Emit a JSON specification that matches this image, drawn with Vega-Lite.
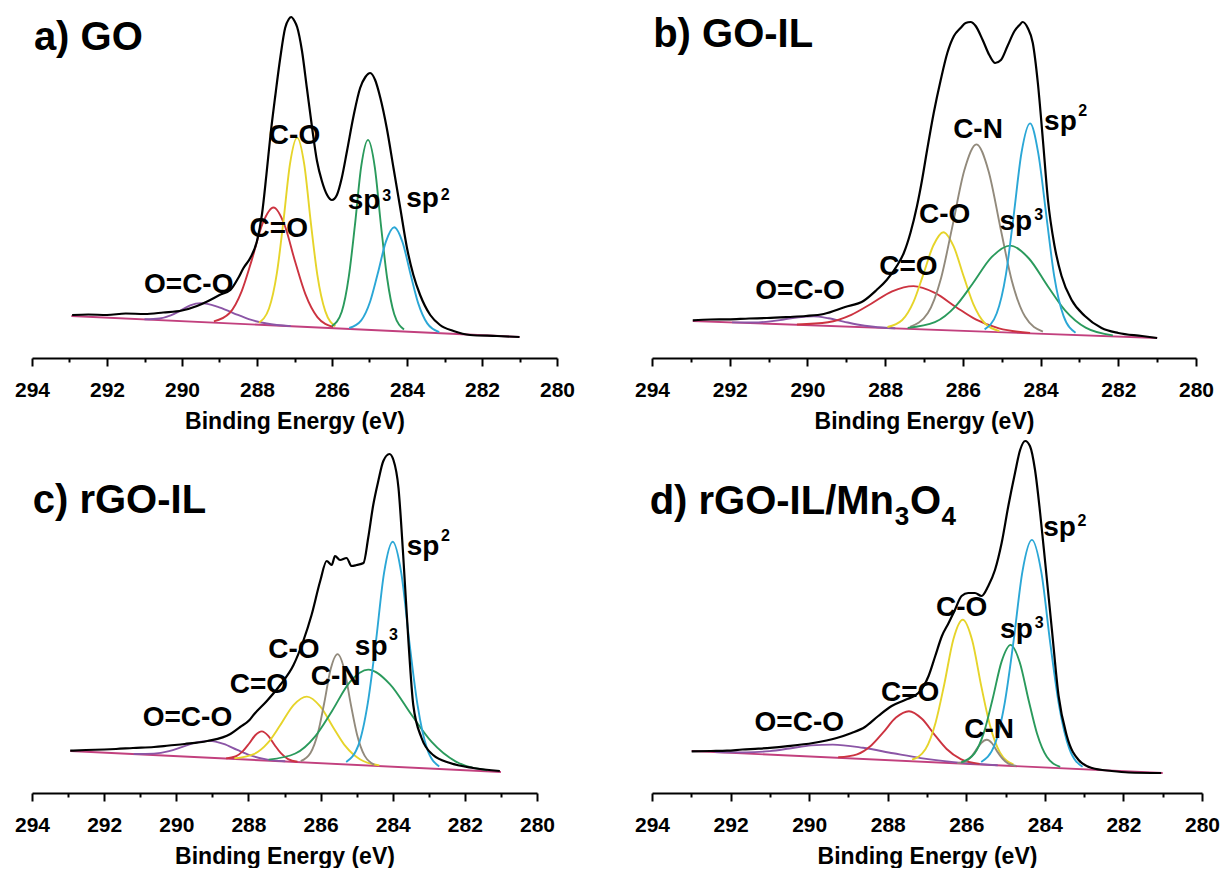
{
"$schema":"https://vega.github.io/schema/vega-lite/v6.json",
"background":"white",
"padding":{"left":14,"top":3,"right":0,"bottom":0},
"spacing":3,
"config":{"view":{"stroke":null},"text":{"font":"Liberation Sans","fontWeight":"bold","fill":"#000"},
"axisX":{"grid":false,"domainWidth":2,"domainColor":"#000","tickWidth":2,"tickColor":"#000","labelFont":"Liberation Sans","labelFontWeight":"bold","labelFontSize":21,"labelColor":"#000","labelPadding":13,"labelFlush":false,"labelOverlap":false,"titleFont":"Liberation Sans","titleFontWeight":"bold","titleFontSize":23,"titleColor":"#000","titlePadding":10}},
"datasets":{
"c":[
{"p":"a","s":"env","x":292.93,"y":43},{"p":"a","s":"env","x":292.5,"y":43.5},{"p":"a","s":"env","x":292.0,"y":43},{"p":"a","s":"env","x":291.5,"y":44.5},{"p":"a","s":"env","x":291.0,"y":44},{"p":"a","s":"env","x":290.5,"y":45.5},{"p":"a","s":"env","x":290.0,"y":47.5},{"p":"a","s":"env","x":289.6,"y":52},{"p":"a","s":"env","x":289.3,"y":57},{"p":"a","s":"env","x":289.0,"y":63},{"p":"a","s":"env","x":288.71,"y":68},{"p":"a","s":"env","x":288.5,"y":80},{"p":"a","s":"env","x":288.36,"y":90},{"p":"a","s":"env","x":288.18,"y":100},{"p":"a","s":"env","x":288.0,"y":117},{"p":"a","s":"env","x":287.87,"y":143},{"p":"a","s":"env","x":287.75,"y":183},{"p":"a","s":"env","x":287.64,"y":223},{"p":"a","s":"env","x":287.51,"y":263},{"p":"a","s":"env","x":287.38,"y":300},{"p":"a","s":"env","x":287.25,"y":330},{"p":"a","s":"env","x":287.15,"y":339},{"p":"a","s":"env","x":287.09,"y":341},{"p":"a","s":"env","x":287.0,"y":337},{"p":"a","s":"env","x":286.93,"y":331},{"p":"a","s":"env","x":286.8,"y":307},{"p":"a","s":"env","x":286.67,"y":270},{"p":"a","s":"env","x":286.53,"y":230},{"p":"a","s":"env","x":286.4,"y":197},{"p":"a","s":"env","x":286.27,"y":177},{"p":"a","s":"env","x":286.13,"y":163},{"p":"a","s":"env","x":286.0,"y":158},{"p":"a","s":"env","x":285.87,"y":163},{"p":"a","s":"env","x":285.74,"y":180},{"p":"a","s":"env","x":285.6,"y":207},{"p":"a","s":"env","x":285.42,"y":243},{"p":"a","s":"env","x":285.25,"y":270},{"p":"a","s":"env","x":285.11,"y":281},{"p":"a","s":"env","x":284.98,"y":285},{"p":"a","s":"env","x":284.85,"y":278},{"p":"a","s":"env","x":284.71,"y":260},{"p":"a","s":"env","x":284.54,"y":230},{"p":"a","s":"env","x":284.36,"y":190},{"p":"a","s":"env","x":284.18,"y":150},{"p":"a","s":"env","x":284.0,"y":110},{"p":"a","s":"env","x":283.83,"y":83},{"p":"a","s":"env","x":283.65,"y":63},{"p":"a","s":"env","x":283.38,"y":43},{"p":"a","s":"env","x":283.12,"y":33},{"p":"a","s":"env","x":282.76,"y":27},{"p":"a","s":"env","x":282.32,"y":23},{"p":"a","s":"env","x":281.6,"y":22},{"p":"a","s":"env","x":281.0,"y":21},
{"p":"a","s":"base","x":292.95,"y":42},{"p":"a","s":"base","x":281.0,"y":21},
{"p":"a","s":"OCO","x":291.0,"y":38.7},{"p":"a","s":"OCO","x":290.6,"y":39.5},{"p":"a","s":"OCO","x":290.3,"y":42.6},{"p":"a","s":"OCO","x":290.05,"y":47.2},{"p":"a","s":"OCO","x":289.78,"y":52.7},{"p":"a","s":"OCO","x":289.5,"y":54.9},{"p":"a","s":"OCO","x":289.06,"y":51.4},{"p":"a","s":"OCO","x":288.62,"y":44.7},{"p":"a","s":"OCO","x":288.22,"y":38.9},{"p":"a","s":"OCO","x":287.74,"y":34.5},{"p":"a","s":"OCO","x":287.1,"y":31.9},
{"p":"a","s":"CdO","x":289.15,"y":36.6},{"p":"a","s":"CdO","x":288.73,"y":45.0},{"p":"a","s":"CdO","x":288.41,"y":66.7},{"p":"a","s":"CdO","x":288.14,"y":97.9},{"p":"a","s":"CdO","x":287.85,"y":134.5},{"p":"a","s":"CdO","x":287.56,"y":150.5},{"p":"a","s":"CdO","x":287.27,"y":133.5},{"p":"a","s":"CdO","x":286.98,"y":95.9},{"p":"a","s":"CdO","x":286.71,"y":63.8},{"p":"a","s":"CdO","x":286.39,"y":40.9},{"p":"a","s":"CdO","x":285.97,"y":31.0},
{"p":"a","s":"CO","x":287.95,"y":35.3},{"p":"a","s":"CO","x":287.68,"y":49.5},{"p":"a","s":"CO","x":287.47,"y":84.8},{"p":"a","s":"CO","x":287.3,"y":135.2},{"p":"a","s":"CO","x":287.12,"y":194.2},{"p":"a","s":"CO","x":286.93,"y":220.4},{"p":"a","s":"CO","x":286.74,"y":193.6},{"p":"a","s":"CO","x":286.56,"y":133.9},{"p":"a","s":"CO","x":286.39,"y":82.9},{"p":"a","s":"CO","x":286.18,"y":46.9},{"p":"a","s":"CO","x":285.91,"y":31.7},
{"p":"a","s":"sp3","x":286.0,"y":31.9},{"p":"a","s":"sp3","x":285.74,"y":46.3},{"p":"a","s":"sp3","x":285.55,"y":81.8},{"p":"a","s":"sp3","x":285.39,"y":132.4},{"p":"a","s":"sp3","x":285.22,"y":191.8},{"p":"a","s":"sp3","x":285.04,"y":218.1},{"p":"a","s":"sp3","x":284.86,"y":191.2},{"p":"a","s":"sp3","x":284.69,"y":131.2},{"p":"a","s":"sp3","x":284.53,"y":80},{"p":"a","s":"sp3","x":284.34,"y":43.8},{"p":"a","s":"sp3","x":284.08,"y":28.5},
{"p":"a","s":"sp2","x":285.54,"y":30.0},{"p":"a","s":"sp2","x":285.22,"y":37.7},{"p":"a","s":"sp2","x":284.98,"y":56.8},{"p":"a","s":"sp2","x":284.78,"y":84.4},{"p":"a","s":"sp2","x":284.56,"y":116.6},{"p":"a","s":"sp2","x":284.34,"y":130.8},{"p":"a","s":"sp2","x":284.12,"y":115.9},{"p":"a","s":"sp2","x":283.9,"y":82.9},{"p":"a","s":"sp2","x":283.7,"y":54.6},{"p":"a","s":"sp2","x":283.46,"y":34.6},{"p":"a","s":"sp2","x":283.14,"y":25.8},
{"p":"b","s":"env","x":292.95,"y":37.7},{"p":"b","s":"env","x":292.5,"y":38.5},{"p":"b","s":"env","x":292.04,"y":38.7},{"p":"b","s":"env","x":291.5,"y":39.5},{"p":"b","s":"env","x":291.04,"y":40},{"p":"b","s":"env","x":290.5,"y":41},{"p":"b","s":"env","x":290.04,"y":42},{"p":"b","s":"env","x":289.58,"y":44},{"p":"b","s":"env","x":289.03,"y":51},{"p":"b","s":"env","x":288.56,"y":57},{"p":"b","s":"env","x":288.22,"y":68},{"p":"b","s":"env","x":287.96,"y":78},{"p":"b","s":"env","x":287.7,"y":92},{"p":"b","s":"env","x":287.52,"y":105},{"p":"b","s":"env","x":287.35,"y":125},{"p":"b","s":"env","x":287.18,"y":152},{"p":"b","s":"env","x":287.05,"y":178},{"p":"b","s":"env","x":286.92,"y":208},{"p":"b","s":"env","x":286.75,"y":245},{"p":"b","s":"env","x":286.57,"y":278},{"p":"b","s":"env","x":286.4,"y":305},{"p":"b","s":"env","x":286.23,"y":322},{"p":"b","s":"env","x":286.06,"y":330},{"p":"b","s":"env","x":285.93,"y":335},{"p":"b","s":"env","x":285.8,"y":336},{"p":"b","s":"env","x":285.67,"y":332},{"p":"b","s":"env","x":285.49,"y":318},{"p":"b","s":"env","x":285.32,"y":303},{"p":"b","s":"env","x":285.17,"y":295},{"p":"b","s":"env","x":285.02,"y":298},{"p":"b","s":"env","x":284.85,"y":312},{"p":"b","s":"env","x":284.67,"y":327},{"p":"b","s":"env","x":284.54,"y":333},{"p":"b","s":"env","x":284.46,"y":336},{"p":"b","s":"env","x":284.33,"y":330},{"p":"b","s":"env","x":284.2,"y":315},{"p":"b","s":"env","x":284.07,"y":275},{"p":"b","s":"env","x":283.94,"y":218},{"p":"b","s":"env","x":283.81,"y":158},{"p":"b","s":"env","x":283.64,"y":112},{"p":"b","s":"env","x":283.46,"y":82},{"p":"b","s":"env","x":283.2,"y":58},{"p":"b","s":"env","x":282.86,"y":42},{"p":"b","s":"env","x":282.43,"y":30},{"p":"b","s":"env","x":282.0,"y":25},{"p":"b","s":"env","x":281.39,"y":22},{"p":"b","s":"env","x":281.0,"y":20},
{"p":"b","s":"base","x":292.95,"y":37},{"p":"b","s":"base","x":281.0,"y":20},
{"p":"b","s":"OCO","x":291.94,"y":35.6},{"p":"b","s":"OCO","x":291.38,"y":35.5},{"p":"b","s":"OCO","x":290.96,"y":36.6},{"p":"b","s":"OCO","x":290.61,"y":38.5},{"p":"b","s":"OCO","x":290.23,"y":40.7},{"p":"b","s":"OCO","x":289.84,"y":41.6},{"p":"b","s":"OCO","x":289.46,"y":39.7},{"p":"b","s":"OCO","x":289.07,"y":36.4},{"p":"b","s":"OCO","x":288.72,"y":33.5},{"p":"b","s":"OCO","x":288.3,"y":31.2},{"p":"b","s":"OCO","x":287.74,"y":29.7},
{"p":"b","s":"CdO","x":290.27,"y":33.5},{"p":"b","s":"CdO","x":289.47,"y":35.8},{"p":"b","s":"CdO","x":288.87,"y":43.2},{"p":"b","s":"CdO","x":288.37,"y":54.0},{"p":"b","s":"CdO","x":287.82,"y":66.7},{"p":"b","s":"CdO","x":287.27,"y":71.9},{"p":"b","s":"CdO","x":286.72,"y":65.1},{"p":"b","s":"CdO","x":286.17,"y":50.8},{"p":"b","s":"CdO","x":285.67,"y":38.6},{"p":"b","s":"CdO","x":285.07,"y":29.6},{"p":"b","s":"CdO","x":284.27,"y":25.1},
{"p":"b","s":"CO","x":287.94,"y":31.0},{"p":"b","s":"CO","x":287.56,"y":38.0},{"p":"b","s":"CO","x":287.27,"y":56.1},{"p":"b","s":"CO","x":287.03,"y":82.1},{"p":"b","s":"CO","x":286.76,"y":112.5},{"p":"b","s":"CO","x":286.5,"y":125.8},{"p":"b","s":"CO","x":286.24,"y":111.8},{"p":"b","s":"CO","x":285.97,"y":80.6},{"p":"b","s":"CO","x":285.73,"y":53.9},{"p":"b","s":"CO","x":285.44,"y":35.0},{"p":"b","s":"CO","x":285.06,"y":26.9},
{"p":"b","s":"CN","x":287.36,"y":31.2},{"p":"b","s":"CN","x":286.9,"y":45.0},{"p":"b","s":"CN","x":286.56,"y":80.0},{"p":"b","s":"CN","x":286.28,"y":129.6},{"p":"b","s":"CN","x":285.96,"y":187.9},{"p":"b","s":"CN","x":285.65,"y":213.6},{"p":"b","s":"CN","x":285.34,"y":187.0},{"p":"b","s":"CN","x":285.02,"y":127.8},{"p":"b","s":"CN","x":284.74,"y":77.3},{"p":"b","s":"CN","x":284.4,"y":41.4},{"p":"b","s":"CN","x":283.94,"y":26.3},
{"p":"b","s":"sp3","x":287.42,"y":30.1},{"p":"b","s":"sp3","x":286.72,"y":35.8},{"p":"b","s":"sp3","x":286.19,"y":51.6},{"p":"b","s":"sp3","x":285.75,"y":74.2},{"p":"b","s":"sp3","x":285.26,"y":100.8},{"p":"b","s":"sp3","x":284.78,"y":112.4},{"p":"b","s":"sp3","x":284.3,"y":99.5},{"p":"b","s":"sp3","x":283.81,"y":71.5},{"p":"b","s":"sp3","x":283.37,"y":47.6},{"p":"b","s":"sp3","x":282.84,"y":30.3},{"p":"b","s":"sp3","x":282.14,"y":22.6},
{"p":"b","s":"sp2","x":285.44,"y":28.6},{"p":"b","s":"sp2","x":285.13,"y":44.5},{"p":"b","s":"sp2","x":284.89,"y":83.9},{"p":"b","s":"sp2","x":284.7,"y":139.9},{"p":"b","s":"sp2","x":284.49,"y":205.5},{"p":"b","s":"sp2","x":284.27,"y":234.6},{"p":"b","s":"sp2","x":284.06,"y":204.9},{"p":"b","s":"sp2","x":283.84,"y":138.7},{"p":"b","s":"sp2","x":283.65,"y":82.1},{"p":"b","s":"sp2","x":283.41,"y":42.1},{"p":"b","s":"sp2","x":283.1,"y":25.3},
{"p":"c","s":"env","x":292.94,"y":42.3},{"p":"c","s":"env","x":292.5,"y":43},{"p":"c","s":"env","x":292.0,"y":43.5},{"p":"c","s":"env","x":291.67,"y":44},{"p":"c","s":"env","x":291.2,"y":45},{"p":"c","s":"env","x":290.62,"y":46},{"p":"c","s":"env","x":290.2,"y":47.5},{"p":"c","s":"env","x":289.77,"y":49},{"p":"c","s":"env","x":289.14,"y":52},{"p":"c","s":"env","x":288.5,"y":59},{"p":"c","s":"env","x":288.23,"y":66},{"p":"c","s":"env","x":287.97,"y":73},{"p":"c","s":"env","x":287.86,"y":78},{"p":"c","s":"env","x":287.49,"y":92},{"p":"c","s":"env","x":287.12,"y":108},{"p":"c","s":"env","x":286.75,"y":128},{"p":"c","s":"env","x":286.48,"y":152},{"p":"c","s":"env","x":286.25,"y":178},{"p":"c","s":"env","x":286.01,"y":212},{"p":"c","s":"env","x":285.83,"y":232},{"p":"c","s":"env","x":285.69,"y":228},{"p":"c","s":"env","x":285.6,"y":237},{"p":"c","s":"env","x":285.46,"y":233},{"p":"c","s":"env","x":285.28,"y":235},{"p":"c","s":"env","x":285.14,"y":227},{"p":"c","s":"env","x":285.0,"y":228},{"p":"c","s":"env","x":284.81,"y":230},{"p":"c","s":"env","x":284.68,"y":255},{"p":"c","s":"env","x":284.54,"y":288},{"p":"c","s":"env","x":284.4,"y":312},{"p":"c","s":"env","x":284.26,"y":332},{"p":"c","s":"env","x":284.09,"y":339},{"p":"c","s":"env","x":283.98,"y":333},{"p":"c","s":"env","x":283.84,"y":305},{"p":"c","s":"env","x":283.71,"y":238},{"p":"c","s":"env","x":283.57,"y":155},{"p":"c","s":"env","x":283.43,"y":88},{"p":"c","s":"env","x":283.2,"y":55},{"p":"c","s":"env","x":282.88,"y":38},{"p":"c","s":"env","x":282.41,"y":30},{"p":"c","s":"env","x":281.77,"y":25},{"p":"c","s":"env","x":281.03,"y":22},
{"p":"c","s":"base","x":292.94,"y":42},{"p":"c","s":"base","x":281.0,"y":21},
{"p":"c","s":"OCO","x":291.18,"y":39.0},{"p":"c","s":"OCO","x":290.62,"y":39.4},{"p":"c","s":"OCO","x":290.2,"y":41.8},{"p":"c","s":"OCO","x":289.85,"y":45.8},{"p":"c","s":"OCO","x":289.47,"y":50.4},{"p":"c","s":"OCO","x":289.08,"y":52.1},{"p":"c","s":"OCO","x":288.69,"y":49.1},{"p":"c","s":"OCO","x":288.31,"y":43.1},{"p":"c","s":"OCO","x":287.96,"y":37.9},{"p":"c","s":"OCO","x":287.54,"y":33.9},{"p":"c","s":"OCO","x":286.98,"y":31.7},
{"p":"c","s":"CdO","x":288.62,"y":34.6},{"p":"c","s":"CdO","x":288.36,"y":36.5},{"p":"c","s":"CdO","x":288.16,"y":41.6},{"p":"c","s":"CdO","x":287.99,"y":49.0},{"p":"c","s":"CdO","x":287.81,"y":57.8},{"p":"c","s":"CdO","x":287.63,"y":61.6},{"p":"c","s":"CdO","x":287.45,"y":57.2},{"p":"c","s":"CdO","x":287.27,"y":47.8},{"p":"c","s":"CdO","x":287.1,"y":39.8},{"p":"c","s":"CdO","x":286.9,"y":33.9},{"p":"c","s":"CdO","x":286.64,"y":31.2},
{"p":"c","s":"CO","x":288.39,"y":34.6},{"p":"c","s":"CO","x":287.85,"y":38.9},{"p":"c","s":"CO","x":287.45,"y":50.6},{"p":"c","s":"CO","x":287.12,"y":67.7},{"p":"c","s":"CO","x":286.75,"y":87.9},{"p":"c","s":"CO","x":286.38,"y":96.4},{"p":"c","s":"CO","x":286.01,"y":86.6},{"p":"c","s":"CO","x":285.64,"y":65.1},{"p":"c","s":"CO","x":285.31,"y":46.8},{"p":"c","s":"CO","x":284.91,"y":33.7},{"p":"c","s":"CO","x":284.37,"y":27.6},
{"p":"c","s":"CN","x":286.55,"y":31.9},{"p":"c","s":"CN","x":286.28,"y":40.0},{"p":"c","s":"CN","x":286.07,"y":60.5},{"p":"c","s":"CN","x":285.9,"y":89.7},{"p":"c","s":"CN","x":285.72,"y":123.9},{"p":"c","s":"CN","x":285.53,"y":138.9},{"p":"c","s":"CN","x":285.34,"y":123.2},{"p":"c","s":"CN","x":285.16,"y":88.4},{"p":"c","s":"CN","x":284.99,"y":58.6},{"p":"c","s":"CN","x":284.78,"y":37.4},{"p":"c","s":"CN","x":284.51,"y":28.3},
{"p":"c","s":"sp3","x":287.44,"y":33.4},{"p":"c","s":"sp3","x":286.7,"y":39.5},{"p":"c","s":"sp3","x":286.15,"y":56.7},{"p":"c","s":"sp3","x":285.69,"y":81.6},{"p":"c","s":"sp3","x":285.19,"y":110.9},{"p":"c","s":"sp3","x":284.68,"y":123.4},{"p":"c","s":"sp3","x":284.08,"y":108.9},{"p":"c","s":"sp3","x":283.47,"y":77.7},{"p":"c","s":"sp3","x":282.92,"y":51.1},{"p":"c","s":"sp3","x":282.26,"y":31.7},{"p":"c","s":"sp3","x":281.38,"y":22.8},
{"p":"c","s":"sp2","x":285.29,"y":31.0},{"p":"c","s":"sp2","x":284.95,"y":47.9},{"p":"c","s":"sp2","x":284.69,"y":90.1},{"p":"c","s":"sp2","x":284.47,"y":150},{"p":"c","s":"sp2","x":284.24,"y":220.2},{"p":"c","s":"sp2","x":284.0,"y":251.3},{"p":"c","s":"sp2","x":283.76,"y":219.3},{"p":"c","s":"sp2","x":283.53,"y":148.3},{"p":"c","s":"sp2","x":283.31,"y":87.6},{"p":"c","s":"sp2","x":283.05,"y":44.6},{"p":"c","s":"sp2","x":282.71,"y":26.5},
{"p":"d","s":"env","x":292.99,"y":41.7},{"p":"d","s":"env","x":292.5,"y":42},{"p":"d","s":"env","x":292.09,"y":42.3},{"p":"d","s":"env","x":291.7,"y":43.5},{"p":"d","s":"env","x":291.29,"y":44.3},{"p":"d","s":"env","x":290.6,"y":46.7},{"p":"d","s":"env","x":289.9,"y":50},{"p":"d","s":"env","x":289.3,"y":55},{"p":"d","s":"env","x":288.92,"y":60},{"p":"d","s":"env","x":288.58,"y":66},{"p":"d","s":"env","x":288.24,"y":77},{"p":"d","s":"env","x":287.9,"y":87},{"p":"d","s":"env","x":287.56,"y":93},{"p":"d","s":"env","x":287.22,"y":100},{"p":"d","s":"env","x":286.96,"y":117},{"p":"d","s":"env","x":286.79,"y":137},{"p":"d","s":"env","x":286.62,"y":157},{"p":"d","s":"env","x":286.45,"y":170},{"p":"d","s":"env","x":286.29,"y":183},{"p":"d","s":"env","x":286.12,"y":197},{"p":"d","s":"env","x":285.95,"y":200},{"p":"d","s":"env","x":285.78,"y":200},{"p":"d","s":"env","x":285.61,"y":197},{"p":"d","s":"env","x":285.44,"y":207},{"p":"d","s":"env","x":285.27,"y":223},{"p":"d","s":"env","x":285.1,"y":250},{"p":"d","s":"env","x":284.93,"y":287},{"p":"d","s":"env","x":284.76,"y":320},{"p":"d","s":"env","x":284.63,"y":343},{"p":"d","s":"env","x":284.5,"y":352},{"p":"d","s":"env","x":284.38,"y":347},{"p":"d","s":"env","x":284.25,"y":323},{"p":"d","s":"env","x":284.12,"y":280},{"p":"d","s":"env","x":283.99,"y":230},{"p":"d","s":"env","x":283.82,"y":163},{"p":"d","s":"env","x":283.65,"y":97},{"p":"d","s":"env","x":283.44,"y":57},{"p":"d","s":"env","x":283.14,"y":33},{"p":"d","s":"env","x":282.8,"y":25},{"p":"d","s":"env","x":282.3,"y":22},{"p":"d","s":"env","x":281.87,"y":20.5},{"p":"d","s":"env","x":281.04,"y":20},
{"p":"d","s":"base","x":292.99,"y":42},{"p":"d","s":"base","x":281.0,"y":20},
{"p":"d","s":"OCO","x":292.4,"y":41.0},{"p":"d","s":"OCO","x":291.6,"y":40.6},{"p":"d","s":"OCO","x":291.0,"y":41.9},{"p":"d","s":"OCO","x":290.5,"y":44.5},{"p":"d","s":"OCO","x":289.95,"y":47.6},{"p":"d","s":"OCO","x":289.4,"y":48.4},{"p":"d","s":"OCO","x":288.63,"y":45.2},{"p":"d","s":"OCO","x":287.86,"y":39.7},{"p":"d","s":"OCO","x":287.16,"y":34.9},{"p":"d","s":"OCO","x":286.32,"y":30.9},{"p":"d","s":"OCO","x":285.2,"y":27.8},
{"p":"d","s":"CdO","x":289.26,"y":35.7},{"p":"d","s":"CdO","x":288.78,"y":38.7},{"p":"d","s":"CdO","x":288.42,"y":47.5},{"p":"d","s":"CdO","x":288.12,"y":60.3},{"p":"d","s":"CdO","x":287.79,"y":75.4},{"p":"d","s":"CdO","x":287.46,"y":81.8},{"p":"d","s":"CdO","x":287.13,"y":74.2},{"p":"d","s":"CdO","x":286.8,"y":57.9},{"p":"d","s":"CdO","x":286.5,"y":44.0},{"p":"d","s":"CdO","x":286.14,"y":33.9},{"p":"d","s":"CdO","x":285.66,"y":29.1},
{"p":"d","s":"CO","x":287.38,"y":33.3},{"p":"d","s":"CO","x":287.04,"y":43.8},{"p":"d","s":"CO","x":286.78,"y":70.6},{"p":"d","s":"CO","x":286.56,"y":108.8},{"p":"d","s":"CO","x":286.33,"y":153.6},{"p":"d","s":"CO","x":286.09,"y":173.3},{"p":"d","s":"CO","x":285.85,"y":152.7},{"p":"d","s":"CO","x":285.62,"y":107.1},{"p":"d","s":"CO","x":285.4,"y":68.1},{"p":"d","s":"CO","x":285.14,"y":40.4},{"p":"d","s":"CO","x":284.8,"y":28.6},
{"p":"d","s":"CN","x":286.23,"y":29.9},{"p":"d","s":"CN","x":286.03,"y":31.4},{"p":"d","s":"CN","x":285.88,"y":35.9},{"p":"d","s":"CN","x":285.76,"y":42.4},{"p":"d","s":"CN","x":285.62,"y":50.0},{"p":"d","s":"CN","x":285.48,"y":53.2},{"p":"d","s":"CN","x":285.34,"y":49.5},{"p":"d","s":"CN","x":285.21,"y":41.4},{"p":"d","s":"CN","x":285.08,"y":34.5},{"p":"d","s":"CN","x":284.93,"y":29.4},{"p":"d","s":"CN","x":284.73,"y":27.1},
{"p":"d","s":"sp3","x":286.13,"y":30.7},{"p":"d","s":"sp3","x":285.79,"y":39.6},{"p":"d","s":"sp3","x":285.54,"y":61.9},{"p":"d","s":"sp3","x":285.33,"y":94.0},{"p":"d","s":"sp3","x":285.1,"y":131.6},{"p":"d","s":"sp3","x":284.87,"y":148.1},{"p":"d","s":"sp3","x":284.64,"y":130.8},{"p":"d","s":"sp3","x":284.41,"y":92.3},{"p":"d","s":"sp3","x":284.2,"y":59.5},{"p":"d","s":"sp3","x":283.95,"y":36.2},{"p":"d","s":"sp3","x":283.61,"y":26.1},
{"p":"d","s":"sp2","x":285.62,"y":31.0},{"p":"d","s":"sp2","x":285.28,"y":48.0},{"p":"d","s":"sp2","x":285.02,"y":90.4},{"p":"d","s":"sp2","x":284.8,"y":150.8},{"p":"d","s":"sp2","x":284.57,"y":221.7},{"p":"d","s":"sp2","x":284.33,"y":253.1},{"p":"d","s":"sp2","x":284.09,"y":220.8},{"p":"d","s":"sp2","x":283.86,"y":149.1},{"p":"d","s":"sp2","x":283.64,"y":87.9},{"p":"d","s":"sp2","x":283.38,"y":44.6},{"p":"d","s":"sp2","x":283.04,"y":26.2}
],
"t":[
{"p":"a","k":"T","t":"a) GO","x":293.95,"y":308},
{"p":"a","k":"L","t":"C-O","x":287.0,"y":214},
{"p":"a","k":"L","t":"C=O","x":287.42,"y":121},
{"p":"a","k":"L","t":"O=C-O","x":289.82,"y":65},
{"p":"a","k":"S","t":"sp","x":285.58,"y":149},
{"p":"a","k":"u","t":"3","x":284.66,"y":157},
{"p":"a","k":"S","t":"sp","x":284.02,"y":151},
{"p":"a","k":"u","t":"2","x":283.1,"y":158},
{"p":"b","k":"T","t":"b) GO-IL","x":293.97,"y":311},
{"p":"b","k":"L","t":"C-N","x":285.61,"y":220},
{"p":"b","k":"L","t":"C-O","x":286.47,"y":135},
{"p":"b","k":"L","t":"C=O","x":287.4,"y":83},
{"p":"b","k":"L","t":"O=C-O","x":290.19,"y":59},
{"p":"b","k":"S","t":"sp","x":283.91,"y":228},
{"p":"b","k":"u","t":"2","x":283.03,"y":242},
{"p":"b","k":"S","t":"sp","x":285.06,"y":128},
{"p":"b","k":"u","t":"3","x":284.16,"y":138},
{"p":"c","k":"T","t":"c) rGO-IL","x":293.98,"y":280},
{"p":"c","k":"L","t":"C-O","x":286.74,"y":135},
{"p":"c","k":"L","t":"C=O","x":287.71,"y":100},
{"p":"c","k":"L","t":"C-N","x":285.58,"y":108},
{"p":"c","k":"L","t":"O=C-O","x":289.69,"y":67},
{"p":"c","k":"S","t":"sp","x":285.05,"y":138},
{"p":"c","k":"u","t":"3","x":284.1,"y":153},
{"p":"c","k":"S","t":"sp","x":283.61,"y":238},
{"p":"c","k":"u","t":"2","x":282.66,"y":252},
{"p":"d","k":"T","t":"d) rGO-IL/Mn","x":294.06,"y":279},
{"p":"d","k":"d","t":"3","x":287.82,"y":268},
{"p":"d","k":"T","t":"O","x":287.43,"y":279},
{"p":"d","k":"d","t":"4","x":286.63,"y":268},
{"p":"d","k":"L","t":"C-O","x":286.12,"y":177},
{"p":"d","k":"L","t":"C=O","x":287.43,"y":92},
{"p":"d","k":"L","t":"C-N","x":285.42,"y":55},
{"p":"d","k":"L","t":"O=C-O","x":290.25,"y":62},
{"p":"d","k":"S","t":"sp","x":285.14,"y":155},
{"p":"d","k":"u","t":"3","x":284.26,"y":165},
{"p":"d","k":"S","t":"sp","x":284.04,"y":257},
{"p":"d","k":"u","t":"2","x":283.17,"y":267}
]},
"vconcat":[
{"bounds":"flush","spacing":95,"hconcat":[
{"width":525,"height":355,
"encoding":{"x":{"field":"x","type":"quantitative","scale":{"domain":[280,294],"reverse":true,"nice":false,"zero":false},"axis":{"title":"Binding Energy (eV)","values":[280,281,282,283,284,285,286,287,288,289,290,291,292,293,294],"labelExpr":"datum.value % 2 === 0 ? datum.label : ''","tickSize":{"condition":{"test":"datum.value % 2 === 0","value":8},"value":4}}},"y":{"field":"y","type":"quantitative","scale":{"domain":[0,355],"nice":false},"axis":null}},
"layer":[
{"data":{"name":"c"},"transform":[{"filter":"datum.p==='a' && datum.s!=='env'"}],"mark":{"type":"line","interpolate":"monotone","strokeWidth":1.9},"encoding":{"color":{"field":"s","type":"nominal","scale":{"domain":["base","OCO","CdO","CO","CN","sp3","sp2"],"range":["#c2407e","#8b55a6","#cc3340","#e6d42a","#928a7c","#2a9a5c","#2ba7d6"]},"legend":null}}},
{"data":{"name":"c"},"transform":[{"filter":"datum.p==='a' && datum.s==='env'"}],"mark":{"type":"line","interpolate":"monotone","strokeWidth":2.2,"color":"#000"}},
{"data":{"name":"t"},"transform":[{"filter":"datum.p==='a' && datum.k==='L'"}],"mark":{"type":"text","align":"center","baseline":"alphabetic","fontSize":28},"encoding":{"text":{"field":"t"}}},
{"data":{"name":"t"},"transform":[{"filter":"datum.p==='a' && datum.k!=='L'"}],"mark":{"type":"text","align":"left","baseline":"alphabetic"},"encoding":{"text":{"field":"t"},"size":{"field":"k","type":"nominal","scale":{"type":"ordinal","domain":["T","S","u","d"],"range":[40,28,16,26]},"legend":null}}}
]},
{"width":544,"height":355,
"encoding":{"x":{"field":"x","type":"quantitative","scale":{"domain":[280,294],"reverse":true,"nice":false,"zero":false},"axis":{"title":"Binding Energy (eV)","values":[280,281,282,283,284,285,286,287,288,289,290,291,292,293,294],"labelExpr":"datum.value % 2 === 0 ? datum.label : ''","tickSize":{"condition":{"test":"datum.value % 2 === 0","value":8},"value":4}}},"y":{"field":"y","type":"quantitative","scale":{"domain":[0,355],"nice":false},"axis":null}},
"layer":[
{"data":{"name":"c"},"transform":[{"filter":"datum.p==='b' && datum.s!=='env'"}],"mark":{"type":"line","interpolate":"monotone","strokeWidth":1.9},"encoding":{"color":{"field":"s","type":"nominal","scale":{"domain":["base","OCO","CdO","CO","CN","sp3","sp2"],"range":["#c2407e","#8b55a6","#cc3340","#e6d42a","#928a7c","#2a9a5c","#2ba7d6"]},"legend":null}}},
{"data":{"name":"c"},"transform":[{"filter":"datum.p==='b' && datum.s==='env'"}],"mark":{"type":"line","interpolate":"monotone","strokeWidth":2.2,"color":"#000"}},
{"data":{"name":"t"},"transform":[{"filter":"datum.p==='b' && datum.k==='L'"}],"mark":{"type":"text","align":"center","baseline":"alphabetic","fontSize":28},"encoding":{"text":{"field":"t"}}},
{"data":{"name":"t"},"transform":[{"filter":"datum.p==='b' && datum.k!=='L'"}],"mark":{"type":"text","align":"left","baseline":"alphabetic"},"encoding":{"text":{"field":"t"},"size":{"field":"k","type":"nominal","scale":{"type":"ordinal","domain":["T","S","u","d"],"range":[40,28,16,26]},"legend":null}}}
]}
]},
{"bounds":"flush","spacing":115,"hconcat":[
{"width":505,"height":355,
"encoding":{"x":{"field":"x","type":"quantitative","scale":{"domain":[280,294],"reverse":true,"nice":false,"zero":false},"axis":{"title":"Binding Energy (eV)","values":[280,281,282,283,284,285,286,287,288,289,290,291,292,293,294],"labelExpr":"datum.value % 2 === 0 ? datum.label : ''","tickSize":{"condition":{"test":"datum.value % 2 === 0","value":8},"value":4}}},"y":{"field":"y","type":"quantitative","scale":{"domain":[0,355],"nice":false},"axis":null}},
"layer":[
{"data":{"name":"c"},"transform":[{"filter":"datum.p==='c' && datum.s!=='env'"}],"mark":{"type":"line","interpolate":"monotone","strokeWidth":1.9},"encoding":{"color":{"field":"s","type":"nominal","scale":{"domain":["base","OCO","CdO","CO","CN","sp3","sp2"],"range":["#cc3340","#8b55a6","#cc3340","#e6d42a","#928a7c","#2a9a5c","#2ba7d6"]},"legend":null}}},
{"data":{"name":"c"},"transform":[{"filter":"datum.p==='c' && datum.s==='env'"}],"mark":{"type":"line","interpolate":"monotone","strokeWidth":2.2,"color":"#000"}},
{"data":{"name":"t"},"transform":[{"filter":"datum.p==='c' && datum.k==='L'"}],"mark":{"type":"text","align":"center","baseline":"alphabetic","fontSize":28},"encoding":{"text":{"field":"t"}}},
{"data":{"name":"t"},"transform":[{"filter":"datum.p==='c' && datum.k!=='L'"}],"mark":{"type":"text","align":"left","baseline":"alphabetic"},"encoding":{"text":{"field":"t"},"size":{"field":"k","type":"nominal","scale":{"type":"ordinal","domain":["T","S","u","d"],"range":[40,28,16,26]},"legend":null}}}
]},
{"width":550,"height":355,
"encoding":{"x":{"field":"x","type":"quantitative","scale":{"domain":[280,294],"reverse":true,"nice":false,"zero":false},"axis":{"title":"Binding Energy (eV)","values":[280,281,282,283,284,285,286,287,288,289,290,291,292,293,294],"labelExpr":"datum.value % 2 === 0 ? datum.label : ''","tickSize":{"condition":{"test":"datum.value % 2 === 0","value":8},"value":4}}},"y":{"field":"y","type":"quantitative","scale":{"domain":[0,355],"nice":false},"axis":null}},
"layer":[
{"data":{"name":"c"},"transform":[{"filter":"datum.p==='d' && datum.s!=='env'"}],"mark":{"type":"line","interpolate":"monotone","strokeWidth":1.9},"encoding":{"color":{"field":"s","type":"nominal","scale":{"domain":["base","OCO","CdO","CO","CN","sp3","sp2"],"range":["#c2407e","#8b55a6","#cc3340","#e6d42a","#928a7c","#2a9a5c","#2ba7d6"]},"legend":null}}},
{"data":{"name":"c"},"transform":[{"filter":"datum.p==='d' && datum.s==='env'"}],"mark":{"type":"line","interpolate":"monotone","strokeWidth":2.2,"color":"#000"}},
{"data":{"name":"t"},"transform":[{"filter":"datum.p==='d' && datum.k==='L'"}],"mark":{"type":"text","align":"center","baseline":"alphabetic","fontSize":28},"encoding":{"text":{"field":"t"}}},
{"data":{"name":"t"},"transform":[{"filter":"datum.p==='d' && datum.k!=='L'"}],"mark":{"type":"text","align":"left","baseline":"alphabetic"},"encoding":{"text":{"field":"t"},"size":{"field":"k","type":"nominal","scale":{"type":"ordinal","domain":["T","S","u","d"],"range":[40,28,16,26]},"legend":null}}}
]}
]}
]
}
